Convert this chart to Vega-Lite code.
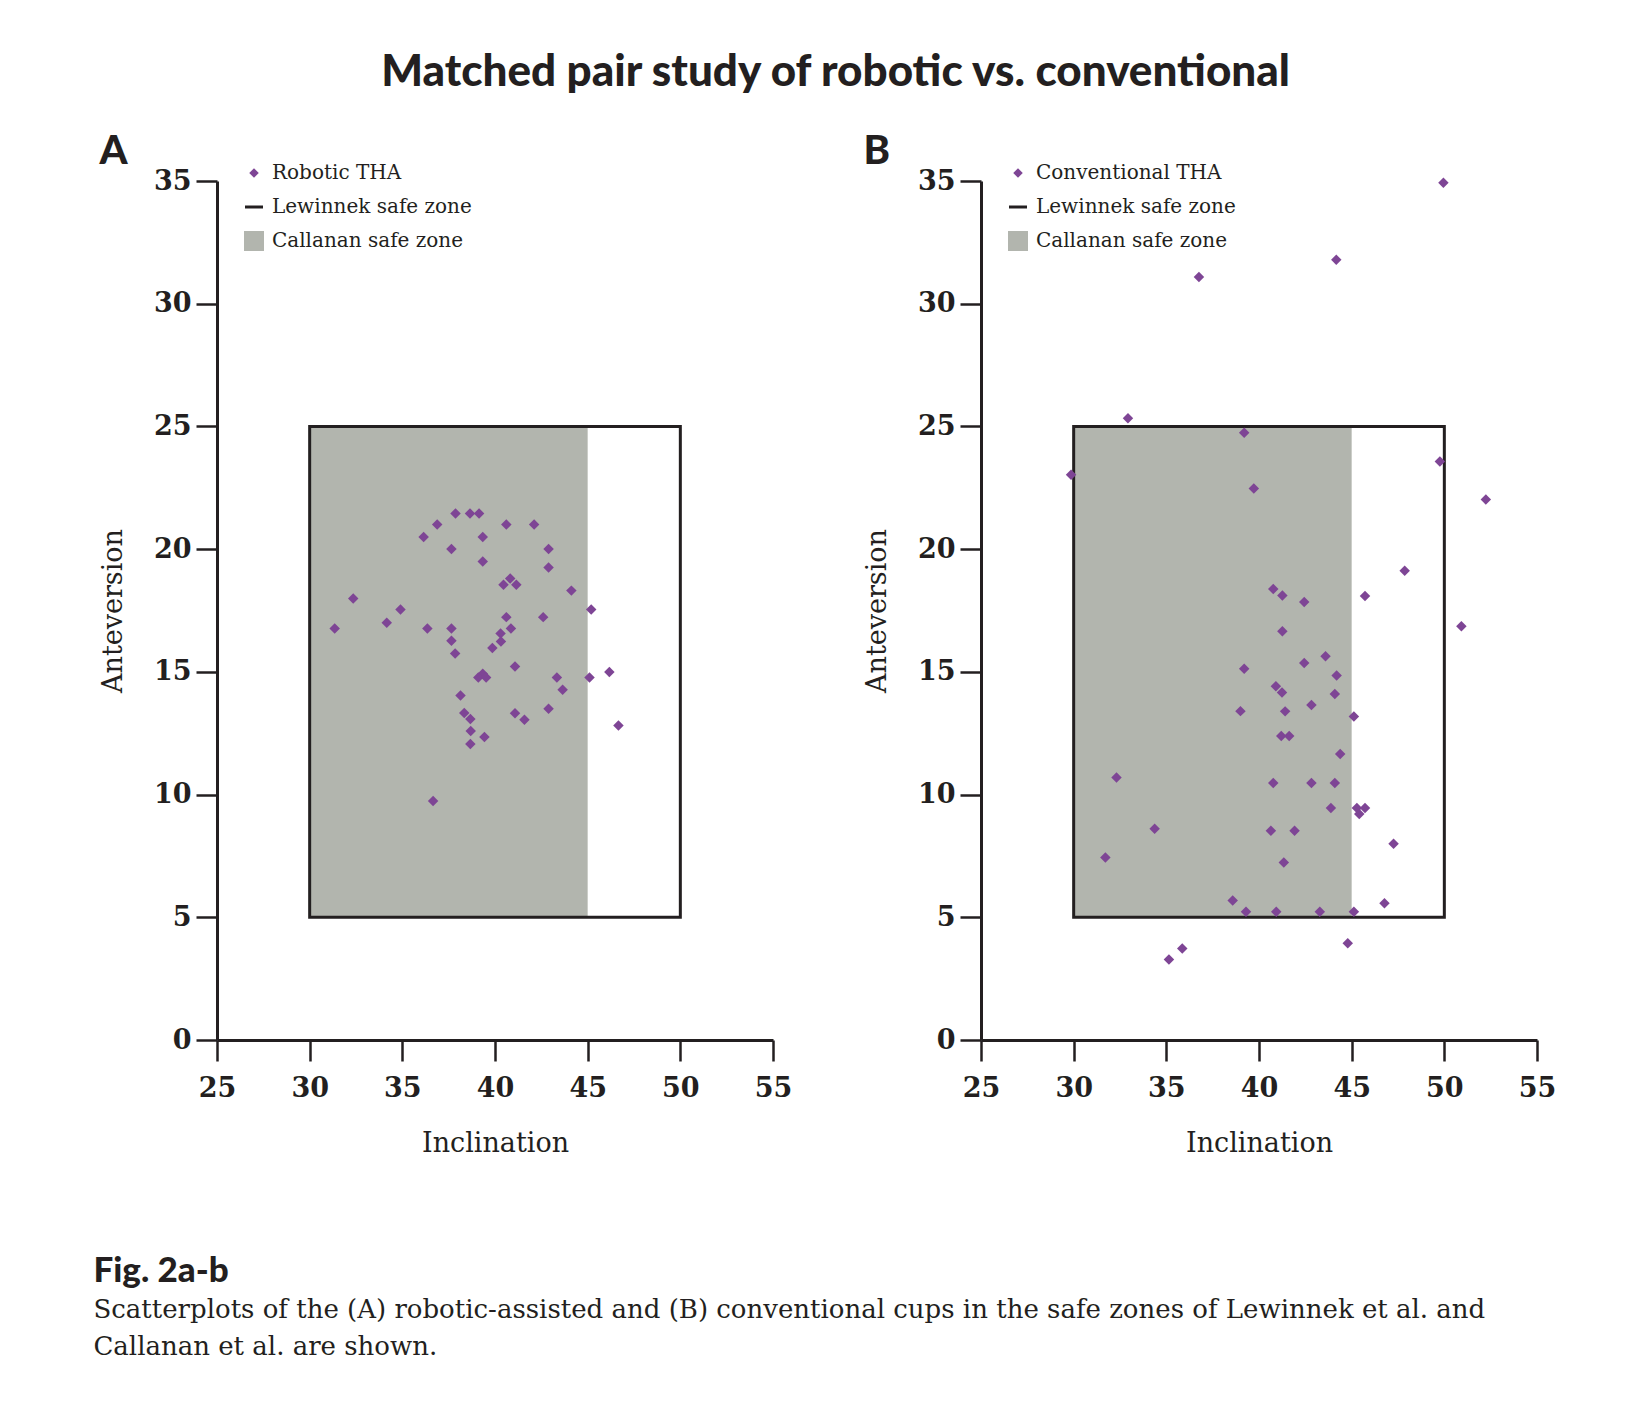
{
  "$schema": "https://vega.github.io/schema/vega-lite/v6.json",
  "background": "white",
  "padding": {"left": 93, "top": 51, "right": 5, "bottom": 5},
  "title": {"text": "Matched pair study of robotic vs. conventional", "font": "Lato", "fontWeight": 900, "fontSize": 44, "color": "#231f20", "anchor": "middle", "offset": 37, "dx": 11},
  "config": {
    "view": {"stroke": null},
    "axis": {"domainColor": "#231f20", "domainWidth": 3, "tickColor": "#231f20", "tickWidth": 2.5, "tickSize": 21, "labelFont": "DejaVu Serif", "labelFontWeight": "bold", "labelFontSize": 27, "labelColor": "#231f20", "titleFont": "DejaVu Serif", "titleFontWeight": "normal", "titleFontSize": 27, "titleColor": "#231f20", "grid": false, "labelFlush": false, "labelOverlap": false},
    "axisX": {"labelPadding": 14, "titlePadding": 29},
    "axisY": {"labelPadding": 5, "titlePadding": 26},
    "legend": {"orient": "none", "legendX": 27, "legendY": -18, "padding": 0, "labelFont": "DejaVu Serif", "labelFontSize": 20, "labelColor": "#231f20", "labelLimit": 0, "rowPadding": 14, "symbolSize": 400, "symbolStrokeWidth": 3, "labelOffset": 8, "symbolOpacity": 1}
  },
  "datasets": {
    "robotic": [
      {"inclination": 37.87, "anteversion": 21.45, "series": "Robotic THA"},
      {"inclination": 38.65, "anteversion": 21.45, "series": "Robotic THA"},
      {"inclination": 39.14, "anteversion": 21.45, "series": "Robotic THA"},
      {"inclination": 36.88, "anteversion": 21.0, "series": "Robotic THA"},
      {"inclination": 40.61, "anteversion": 21.0, "series": "Robotic THA"},
      {"inclination": 42.11, "anteversion": 21.0, "series": "Robotic THA"},
      {"inclination": 36.15, "anteversion": 20.49, "series": "Robotic THA"},
      {"inclination": 39.34, "anteversion": 20.49, "series": "Robotic THA"},
      {"inclination": 37.65, "anteversion": 20.01, "series": "Robotic THA"},
      {"inclination": 42.89, "anteversion": 20.01, "series": "Robotic THA"},
      {"inclination": 39.34, "anteversion": 19.5, "series": "Robotic THA"},
      {"inclination": 42.89, "anteversion": 19.25, "series": "Robotic THA"},
      {"inclination": 40.82, "anteversion": 18.8, "series": "Robotic THA"},
      {"inclination": 40.46, "anteversion": 18.55, "series": "Robotic THA"},
      {"inclination": 41.15, "anteversion": 18.55, "series": "Robotic THA"},
      {"inclination": 44.12, "anteversion": 18.31, "series": "Robotic THA"},
      {"inclination": 32.35, "anteversion": 17.99, "series": "Robotic THA"},
      {"inclination": 45.19, "anteversion": 17.54, "series": "Robotic THA"},
      {"inclination": 34.9, "anteversion": 17.54, "series": "Robotic THA"},
      {"inclination": 40.61, "anteversion": 17.23, "series": "Robotic THA"},
      {"inclination": 42.6, "anteversion": 17.23, "series": "Robotic THA"},
      {"inclination": 34.16, "anteversion": 17.0, "series": "Robotic THA"},
      {"inclination": 31.35, "anteversion": 16.77, "series": "Robotic THA"},
      {"inclination": 36.35, "anteversion": 16.77, "series": "Robotic THA"},
      {"inclination": 37.65, "anteversion": 16.77, "series": "Robotic THA"},
      {"inclination": 40.86, "anteversion": 16.77, "series": "Robotic THA"},
      {"inclination": 40.3, "anteversion": 16.56, "series": "Robotic THA"},
      {"inclination": 37.65, "anteversion": 16.27, "series": "Robotic THA"},
      {"inclination": 40.32, "anteversion": 16.24, "series": "Robotic THA"},
      {"inclination": 39.86, "anteversion": 15.97, "series": "Robotic THA"},
      {"inclination": 37.85, "anteversion": 15.75, "series": "Robotic THA"},
      {"inclination": 41.08, "anteversion": 15.22, "series": "Robotic THA"},
      {"inclination": 39.34, "anteversion": 14.92, "series": "Robotic THA"},
      {"inclination": 39.1, "anteversion": 14.77, "series": "Robotic THA"},
      {"inclination": 39.52, "anteversion": 14.77, "series": "Robotic THA"},
      {"inclination": 43.34, "anteversion": 14.77, "series": "Robotic THA"},
      {"inclination": 45.1, "anteversion": 14.77, "series": "Robotic THA"},
      {"inclination": 46.17, "anteversion": 14.99, "series": "Robotic THA"},
      {"inclination": 43.65, "anteversion": 14.27, "series": "Robotic THA"},
      {"inclination": 38.14, "anteversion": 14.04, "series": "Robotic THA"},
      {"inclination": 42.89, "anteversion": 13.5, "series": "Robotic THA"},
      {"inclination": 38.34, "anteversion": 13.32, "series": "Robotic THA"},
      {"inclination": 41.08, "anteversion": 13.31, "series": "Robotic THA"},
      {"inclination": 38.67, "anteversion": 13.08, "series": "Robotic THA"},
      {"inclination": 41.59, "anteversion": 13.05, "series": "Robotic THA"},
      {"inclination": 38.69, "anteversion": 12.59, "series": "Robotic THA"},
      {"inclination": 39.43, "anteversion": 12.35, "series": "Robotic THA"},
      {"inclination": 46.66, "anteversion": 12.81, "series": "Robotic THA"},
      {"inclination": 38.67, "anteversion": 12.06, "series": "Robotic THA"},
      {"inclination": 36.66, "anteversion": 9.74, "series": "Robotic THA"}
    ],
    "conventional": [
      {"inclination": 49.95, "anteversion": 34.93, "series": "Conventional THA"},
      {"inclination": 44.17, "anteversion": 31.79, "series": "Conventional THA"},
      {"inclination": 36.76, "anteversion": 31.09, "series": "Conventional THA"},
      {"inclination": 32.93, "anteversion": 25.33, "series": "Conventional THA"},
      {"inclination": 39.2, "anteversion": 24.74, "series": "Conventional THA"},
      {"inclination": 29.86, "anteversion": 23.03, "series": "Conventional THA"},
      {"inclination": 49.76, "anteversion": 23.57, "series": "Conventional THA"},
      {"inclination": 39.72, "anteversion": 22.47, "series": "Conventional THA"},
      {"inclination": 52.24, "anteversion": 22.02, "series": "Conventional THA"},
      {"inclination": 47.86, "anteversion": 19.12, "series": "Conventional THA"},
      {"inclination": 40.77, "anteversion": 18.38, "series": "Conventional THA"},
      {"inclination": 41.26, "anteversion": 18.11, "series": "Conventional THA"},
      {"inclination": 42.44, "anteversion": 17.85, "series": "Conventional THA"},
      {"inclination": 45.72, "anteversion": 18.09, "series": "Conventional THA"},
      {"inclination": 50.92, "anteversion": 16.86, "series": "Conventional THA"},
      {"inclination": 41.26, "anteversion": 16.65, "series": "Conventional THA"},
      {"inclination": 43.59, "anteversion": 15.64, "series": "Conventional THA"},
      {"inclination": 42.44, "anteversion": 15.36, "series": "Conventional THA"},
      {"inclination": 39.2, "anteversion": 15.13, "series": "Conventional THA"},
      {"inclination": 44.19, "anteversion": 14.85, "series": "Conventional THA"},
      {"inclination": 40.91, "anteversion": 14.41, "series": "Conventional THA"},
      {"inclination": 41.24, "anteversion": 14.16, "series": "Conventional THA"},
      {"inclination": 44.09, "anteversion": 14.1, "series": "Conventional THA"},
      {"inclination": 42.83, "anteversion": 13.65, "series": "Conventional THA"},
      {"inclination": 39.0, "anteversion": 13.4, "series": "Conventional THA"},
      {"inclination": 41.41, "anteversion": 13.39, "series": "Conventional THA"},
      {"inclination": 45.12, "anteversion": 13.18, "series": "Conventional THA"},
      {"inclination": 41.2, "anteversion": 12.39, "series": "Conventional THA"},
      {"inclination": 41.63, "anteversion": 12.39, "series": "Conventional THA"},
      {"inclination": 44.38, "anteversion": 11.65, "series": "Conventional THA"},
      {"inclination": 32.31, "anteversion": 10.7, "series": "Conventional THA"},
      {"inclination": 40.77, "anteversion": 10.47, "series": "Conventional THA"},
      {"inclination": 42.83, "anteversion": 10.47, "series": "Conventional THA"},
      {"inclination": 44.09, "anteversion": 10.47, "series": "Conventional THA"},
      {"inclination": 43.88, "anteversion": 9.45, "series": "Conventional THA"},
      {"inclination": 45.28, "anteversion": 9.45, "series": "Conventional THA"},
      {"inclination": 45.72, "anteversion": 9.45, "series": "Conventional THA"},
      {"inclination": 45.41, "anteversion": 9.21, "series": "Conventional THA"},
      {"inclination": 34.37, "anteversion": 8.61, "series": "Conventional THA"},
      {"inclination": 40.64, "anteversion": 8.53, "series": "Conventional THA"},
      {"inclination": 41.92, "anteversion": 8.53, "series": "Conventional THA"},
      {"inclination": 47.26, "anteversion": 8.0, "series": "Conventional THA"},
      {"inclination": 31.71, "anteversion": 7.44, "series": "Conventional THA"},
      {"inclination": 41.34, "anteversion": 7.23, "series": "Conventional THA"},
      {"inclination": 38.58, "anteversion": 5.68, "series": "Conventional THA"},
      {"inclination": 46.77, "anteversion": 5.57, "series": "Conventional THA"},
      {"inclination": 39.3, "anteversion": 5.23, "series": "Conventional THA"},
      {"inclination": 40.93, "anteversion": 5.23, "series": "Conventional THA"},
      {"inclination": 43.28, "anteversion": 5.23, "series": "Conventional THA"},
      {"inclination": 45.12, "anteversion": 5.23, "series": "Conventional THA"},
      {"inclination": 44.79, "anteversion": 3.94, "series": "Conventional THA"},
      {"inclination": 35.86, "anteversion": 3.73, "series": "Conventional THA"},
      {"inclination": 35.14, "anteversion": 3.28, "series": "Conventional THA"}
    ],
    "callanan": [{"x1": 30, "x2": 45, "y1": 5, "y2": 25}],
    "lewinnek": [{"x1": 30, "x2": 50, "y1": 5, "y2": 25}]
  },
  "vconcat": [
    {
      "title": {"text": "Fig. 2a-b", "subtitle": ["Scatterplots of the (A) robotic-assisted and (B) conventional cups in the safe zones of Lewinnek et al. and", "Callanan et al. are shown."], "orient": "bottom", "anchor": "start", "frame": "bounds", "font": "Lato", "fontWeight": 900, "fontSize": 35, "color": "#231f20", "subtitleFont": "DejaVu Serif", "subtitleFontSize": 26, "subtitleColor": "#231f20", "subtitleLineHeight": 37, "subtitlePadding": 8, "offset": 98, "dx": -6},
      "spacing": 71,
      "resolve": {"scale": {"color": "independent", "shape": "independent"}, "legend": {"color": "independent", "shape": "independent"}},
      "hconcat": [
        {
          "width": 556,
          "height": 859,
          "title": {"text": "A", "anchor": "start", "frame": "bounds", "font": "Lato", "fontWeight": 900, "fontSize": 40, "color": "#231f20", "offset": -9},
          "layer": [
            {
              "data": {"name": "callanan"},
              "mark": {"type": "rect", "fill": "#b2b5ae"},
              "encoding": {
                "x": {"field": "x1", "type": "quantitative", "scale": {"domain": [25, 55], "nice": false, "zero": false}, "axis": {"title": "Inclination", "values": [25, 30, 35, 40, 45, 50, 55]}},
                "x2": {"field": "x2"},
                "y": {"field": "y1", "type": "quantitative", "scale": {"domain": [0, 35], "nice": false}, "axis": {"title": "Anteversion", "values": [0, 5, 10, 15, 20, 25, 30, 35]}},
                "y2": {"field": "y2"}
              }
            },
            {
              "data": {"name": "lewinnek"},
              "mark": {"type": "rect", "fill": null, "stroke": "#231f20", "strokeWidth": 3},
              "encoding": {
                "x": {"field": "x1", "type": "quantitative", "scale": {"domain": [25, 55], "nice": false, "zero": false}},
                "x2": {"field": "x2"},
                "y": {"field": "y1", "type": "quantitative", "scale": {"domain": [0, 35], "nice": false}},
                "y2": {"field": "y2"}
              }
            },
            {
              "data": {"name": "robotic"},
              "mark": {"type": "point", "filled": true, "opacity": 1, "size": 110},
              "encoding": {
                "x": {"field": "inclination", "type": "quantitative", "scale": {"domain": [25, 55], "nice": false, "zero": false}},
                "y": {"field": "anteversion", "type": "quantitative", "scale": {"domain": [0, 35], "nice": false}},
                "color": {"field": "series", "type": "nominal", "scale": {"domain": ["Robotic THA", "Lewinnek safe zone", "Callanan safe zone"], "range": ["#7e4595", "#231f20", "#b2b5ae"]}, "legend": {"title": null, "encode": {"symbols": {"update": {"stroke": {"signal": "datum.value === 'Lewinnek safe zone' ? '#231f20' : 'transparent'"}, "strokeWidth": {"signal": "datum.value === 'Lewinnek safe zone' ? 3 : 0"}, "size": {"signal": "datum.value === 'Lewinnek safe zone' ? 324 : datum.value === 'Callanan safe zone' ? 400 : 90"}}}}}},
                "shape": {"field": "series", "type": "nominal", "scale": {"domain": ["Robotic THA", "Lewinnek safe zone", "Callanan safe zone"], "range": ["diamond", "stroke", "square"]}, "legend": {"title": null}}
              }
            }
          ]
        },
        {
          "width": 556,
          "height": 859,
          "title": {"text": "B", "anchor": "start", "frame": "bounds", "font": "Lato", "fontWeight": 900, "fontSize": 40, "color": "#231f20", "offset": -9},
          "layer": [
            {
              "data": {"name": "callanan"},
              "mark": {"type": "rect", "fill": "#b2b5ae"},
              "encoding": {
                "x": {"field": "x1", "type": "quantitative", "scale": {"domain": [25, 55], "nice": false, "zero": false}, "axis": {"title": "Inclination", "values": [25, 30, 35, 40, 45, 50, 55]}},
                "x2": {"field": "x2"},
                "y": {"field": "y1", "type": "quantitative", "scale": {"domain": [0, 35], "nice": false}, "axis": {"title": "Anteversion", "values": [0, 5, 10, 15, 20, 25, 30, 35]}},
                "y2": {"field": "y2"}
              }
            },
            {
              "data": {"name": "lewinnek"},
              "mark": {"type": "rect", "fill": null, "stroke": "#231f20", "strokeWidth": 3},
              "encoding": {
                "x": {"field": "x1", "type": "quantitative", "scale": {"domain": [25, 55], "nice": false, "zero": false}},
                "x2": {"field": "x2"},
                "y": {"field": "y1", "type": "quantitative", "scale": {"domain": [0, 35], "nice": false}},
                "y2": {"field": "y2"}
              }
            },
            {
              "data": {"name": "conventional"},
              "mark": {"type": "point", "filled": true, "opacity": 1, "size": 110},
              "encoding": {
                "x": {"field": "inclination", "type": "quantitative", "scale": {"domain": [25, 55], "nice": false, "zero": false}},
                "y": {"field": "anteversion", "type": "quantitative", "scale": {"domain": [0, 35], "nice": false}},
                "color": {"field": "series", "type": "nominal", "scale": {"domain": ["Conventional THA", "Lewinnek safe zone", "Callanan safe zone"], "range": ["#7e4595", "#231f20", "#b2b5ae"]}, "legend": {"title": null, "encode": {"symbols": {"update": {"stroke": {"signal": "datum.value === 'Lewinnek safe zone' ? '#231f20' : 'transparent'"}, "strokeWidth": {"signal": "datum.value === 'Lewinnek safe zone' ? 3 : 0"}, "size": {"signal": "datum.value === 'Lewinnek safe zone' ? 324 : datum.value === 'Callanan safe zone' ? 400 : 90"}}}}}},
                "shape": {"field": "series", "type": "nominal", "scale": {"domain": ["Conventional THA", "Lewinnek safe zone", "Callanan safe zone"], "range": ["diamond", "stroke", "square"]}, "legend": {"title": null}}
              }
            }
          ]
        }
      ]
    }
  ]
}
